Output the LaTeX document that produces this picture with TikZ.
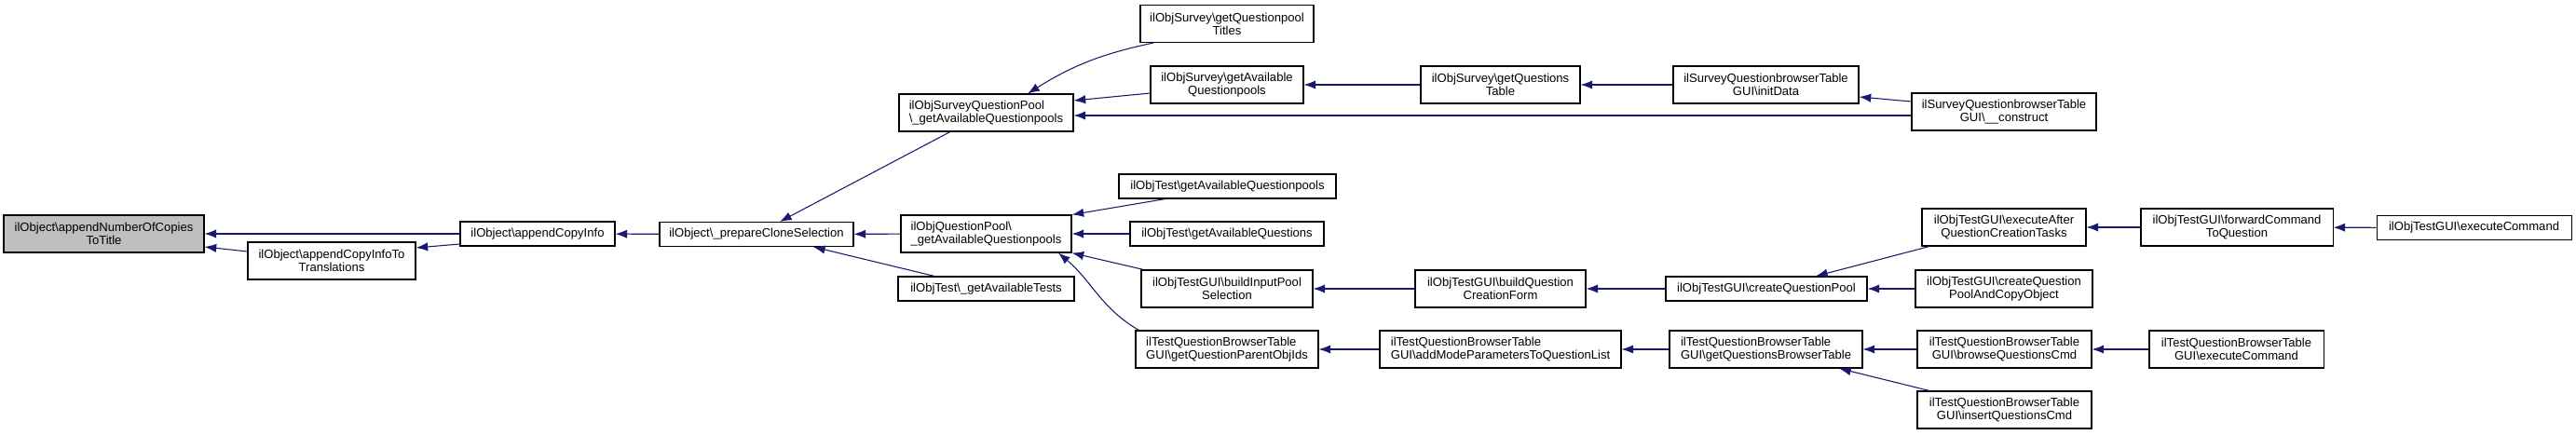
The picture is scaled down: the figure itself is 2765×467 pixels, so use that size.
\documentclass[tikz,border=0pt]{standalone}
\usepackage{fontspec}
\setmainfont{Liberation Sans}
\usetikzlibrary{arrows.meta}
\definecolor{edgeblue}{HTML}{191970}
\newcommand{\bsl}{\textbackslash}

\begin{document}
\begin{tikzpicture}[x=0.75pt,y=-0.75pt,
    fn/.style={draw=black,line width=0.8pt,inner sep=0pt,minimum height=30pt,align=center,font=\fontsize{9.8}{10.5}\selectfont},
    fn1/.style={fn,minimum height=19.5pt},
    call/.style={draw=edgeblue,line width=0.8pt,-{Latex[length=9.5pt,width=7pt]}}]
    \useasboundingbox (0,0) rectangle (2765,467);
    \node[fn,fill=gray!50,minimum width=161.25pt] (numCopies) at (111.5,251) {ilObject\bsl appendNumberOfCopies\\ToTitle};
    \node[fn1,minimum width=124.5pt] (appCopyInfo) at (577,251) {ilObject\bsl appendCopyInfo};
    \node[fn,minimum width=135pt] (appCopyTrans) at (356,280) {ilObject\bsl appendCopyInfoTo\\Translations};
    \node[fn1,minimum width=156pt] (prepClone) at (812,251.5) {ilObject\bsl\_prepareCloneSelection};
    \node[fn,align=left,minimum width=140.25pt] (surveyPool) at (1058.5,121) {ilObjSurveyQuestionPool\\\bsl\_getAvailableQuestionpools};
    \node[fn,align=left,minimum width=137.25pt] (qPool) at (1058.5,251) {ilObjQuestionPool\bsl\\\_getAvailableQuestionpools};
    \node[fn1,minimum width=141.75pt] (availTests) at (1058.5,310) {ilObjTest\bsl\_getAvailableTests};
    \node[fn,minimum width=139.5pt] (qpTitles) at (1317,25.5) {ilObjSurvey\bsl getQuestionpool\\Titles};
    \node[fn,minimum width=123pt] (survAvailQP) at (1317,91) {ilObjSurvey\bsl getAvailable\\Questionpools};
    \node[fn1,minimum width=174.75pt] (testAvailQP) at (1317.5,200) {ilObjTest\bsl getAvailableQuestionpools};
    \node[fn1,minimum width=156pt] (testAvailQ) at (1317,251) {ilObjTest\bsl getAvailableQuestions};
    \node[fn,minimum width=138pt] (buildInput) at (1317,310) {ilObjTestGUI\bsl buildInputPool\\Selection};
    \node[fn,align=left,minimum width=147pt] (parentObjIds) at (1317,375) {ilTestQuestionBrowserTable\\GUI\bsl getQuestionParentObjIds};
    \node[fn,minimum width=128.25pt] (questionsTable) at (1610.5,91) {ilObjSurvey\bsl getQuestions\\Table};
    \node[fn,minimum width=137.25pt] (buildQCF) at (1610.5,310) {ilObjTestGUI\bsl buildQuestion\\CreationForm};
    \node[fn,align=left,minimum width=194.25pt] (addMode) at (1610.5,375) {ilTestQuestionBrowserTable\\GUI\bsl addModeParametersToQuestionList};
    \node[fn,minimum width=149.25pt] (initData) at (1895.5,91) {ilSurveyQuestionbrowserTable\\GUI\bsl initData};
    \node[fn1,minimum width=162pt] (createQP) at (1896,310) {ilObjTestGUI\bsl createQuestionPool};
    \node[fn,align=left,minimum width=155.25pt] (getQBT) at (1895.5,375) {ilTestQuestionBrowserTable\\GUI\bsl getQuestionsBrowserTable};
    \node[fn,minimum width=148.5pt] (construct) at (2151,120) {ilSurveyQuestionbrowserTable\\GUI\bsl\_\_construct};
    \node[fn,minimum width=132pt] (execAfter) at (2151,244) {ilObjTestGUI\bsl executeAfter\\QuestionCreationTasks};
    \node[fn,minimum width=142.5pt] (createQPCopy) at (2151,310) {ilObjTestGUI\bsl createQuestion\\PoolAndCopyObject};
    \node[fn,minimum width=140.25pt] (browseCmd) at (2151.5,375) {ilTestQuestionBrowserTable\\GUI\bsl browseQuestionsCmd};
    \node[fn,minimum width=140.25pt] (insertCmd) at (2151.5,440) {ilTestQuestionBrowserTable\\GUI\bsl insertQuestionsCmd};
    \node[fn,minimum width=154.5pt] (forwardCmd) at (2401,244) {ilObjTestGUI\bsl forwardCommand\\ToQuestion};
    \node[fn,minimum width=140.25pt] (tblExecCmd) at (2400.5,375) {ilTestQuestionBrowserTable\\GUI\bsl executeCommand};
    \node[fn1,minimum width=156.75pt] (testExecCmd) at (2655.5,244.5) {ilObjTestGUI\bsl executeCommand};
    \draw[call] (appCopyInfo) -- (numCopies);
    \draw[call] ([yshift=7.5pt]appCopyTrans.west) -- ([yshift=-10.5pt]numCopies.east);
    \draw[call] ([yshift=-8.25pt]appCopyInfo.west) -- ([yshift=10.5pt]appCopyTrans.east);
    \draw[call] (prepClone) -- (appCopyInfo);
    \draw[call] ([xshift=-29pt]surveyPool.south) -- ([xshift=18.75pt]prepClone.north);
    \draw[call] (qPool) -- (prepClone);
    \draw[call] ([xshift=-41.6pt]availTests.north) -- ([xshift=45.75pt]prepClone.south);
    \draw[call] ([xshift=-59.25pt]qpTitles.south) to[bend right=10] ([xshift=33.4pt]surveyPool.north);
    \draw[call] ([yshift=-6.75pt]survAvailQP.west) -- ([yshift=9.75pt]surveyPool.east);
    \draw[call] ([yshift=-3pt]construct.west) -- ([yshift=-2.25pt]surveyPool.east);
    \draw[call] (questionsTable) -- (survAvailQP);
    \draw[call] (initData) -- (questionsTable);
    \draw[call] ([yshift=8.25pt]construct.west) -- ([yshift=-9.75pt]initData.east);
    \draw[call] ([xshift=-49.9pt]testAvailQP.south) -- (qPool.north east);
    \draw[call] (testAvailQ) -- (qPool);
    \draw[call] ([xshift=2.25pt]buildInput.north west) -- (qPool.south east);
    \draw[call] ([xshift=3pt]parentObjIds.north west) to[out=150,in=-40] ([xshift=58.1pt]qPool.south);
    \draw[call] (buildQCF) -- (buildInput);
    \draw[call] (addMode) -- (parentObjIds);
    \draw[call] (createQP) -- (buildQCF);
    \draw[call] (getQBT) -- (addMode);
    \draw[call] ([xshift=-60pt]execAfter.south) -- ([xshift=39.75pt]createQP.north);
    \draw[call] (createQPCopy) -- (createQP);
    \draw[call] (browseCmd) -- (getQBT);
    \draw[call] ([xshift=-60.4pt]insertCmd.north) -- ([xshift=58.9pt]getQBT.south);
    \draw[call] (forwardCmd) -- (execAfter);
    \draw[call] (testExecCmd) -- (forwardCmd);
    \draw[call] (tblExecCmd) -- (browseCmd);
\end{tikzpicture}
\end{document}
